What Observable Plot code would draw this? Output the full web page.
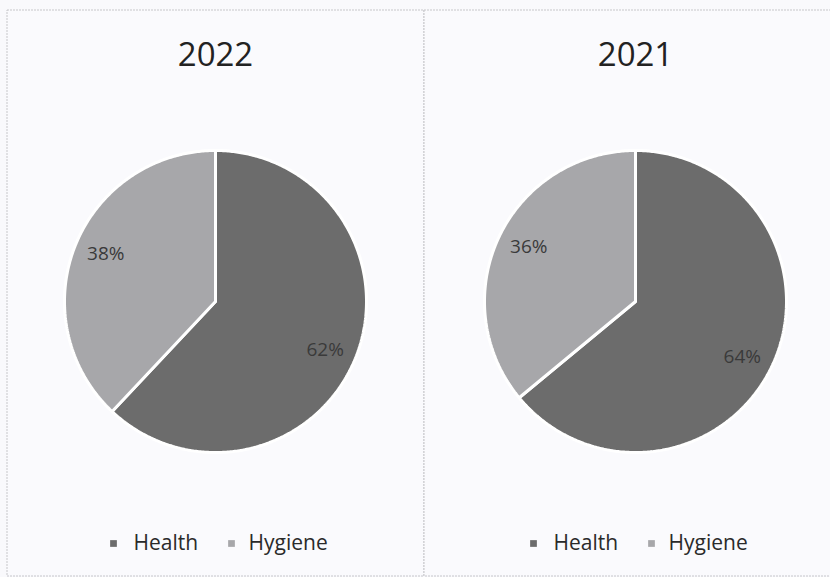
<!DOCTYPE html>
<html>
<head>
<meta charset="utf-8">
<script src="https://cdn.jsdelivr.net/npm/d3@7"></script>
<script src="https://cdn.jsdelivr.net/npm/@observablehq/plot@0.6"></script>
<style>
  html, body { margin: 0; padding: 0; background: #f9f9fc; }
  #chart { width: 830px; height: 577px; }
</style>
</head>
<body>
<div id="chart"></div>
<script>
// ---- data ----
const years = ["2022", "2021"];
const categories = ["Health", "Hygiene"];
const health = [62, 64];
const hygiene = [38, 36];
const colors = ["#6c6c6c", "#a7a7aa"];

// ---- layout ----
const W = 830, H = 577;
const centersX = [215, 635];
const centerY = 301;
const R = 151;
const labelR = 118;

const slicePts = [];
const labels = [];
const titles = [];
const legendSq = [];
const legendTx = [];

years.forEach((yr, i) => {
  const cx = centersX[i];
  const vals = [health[i], hygiene[i]];
  const arcs = d3.pie().sort(null)(vals);
  arcs.forEach((a, j) => {
    const key = yr + "-" + categories[j];
    slicePts.push({key, cat: categories[j], x: cx, y: centerY});
    const n = Math.max(2, Math.ceil((a.endAngle - a.startAngle) / 0.01));
    for (let k = 0; k <= n; k++) {
      const t = a.startAngle + (a.endAngle - a.startAngle) * k / n;
      slicePts.push({key, cat: categories[j], x: cx + R * Math.sin(t), y: centerY - R * Math.cos(t)});
    }
    slicePts.push({key, cat: categories[j], x: cx, y: centerY});
    const mid = (a.startAngle + a.endAngle) / 2;
    const dyFix = j === 0 ? 5 : -4;
    labels.push({x: cx + labelR * Math.sin(mid), y: centerY - labelR * Math.cos(mid) + dyFix, text: vals[j] + "%"});
  });
  titles.push({x: cx, y: 55, text: yr});
  const sqOff = [-102, 16];
  const txOff = [-82, 33];
  categories.forEach((c, j) => {
    legendSq.push({x: cx + sqOff[j], y: 543, cat: c});
    legendTx.push({x: cx + txOff[j], y: 543, text: c});
  });
});

const panels = [
  {x1: 7, x2: 424, y1: 10, y2: 576},
  {x1: 424, x2: 840, y1: 10, y2: 576}
];

const chart = Plot.plot({
  width: W,
  height: H,
  margin: 0,
  x: {type: "identity", axis: null},
  y: {type: "identity", axis: null},
  style: {fontFamily: "'Open Sans', sans-serif", background: "#f9f9fc"},
  marks: [
    Plot.rect(panels, {x1: "x1", x2: "x2", y1: "y1", y2: "y2", fill: "#fafafd", stroke: "#c6c6ca", strokeWidth: 1, strokeDasharray: "2,1"}),
    ...categories.map((c, j) =>
      Plot.line(slicePts.filter(d => d.cat === c), {
        x: "x", y: "y", z: "key",
        fill: colors[j], stroke: "white", strokeWidth: 3,
        strokeLinejoin: "miter", curve: "linear"
      })
    ),
    Plot.text(labels, {x: "x", y: "y", text: "text", fontSize: 19, fill: "#3a3a3a", textAnchor: "middle"}),
    Plot.text(titles, {x: "x", y: "y", text: "text", fontSize: 33, fill: "#222", textAnchor: "middle"}),
    Plot.dot(legendSq, {x: "x", y: "y", symbol: "square", r: 3.8, fill: d => colors[categories.indexOf(d.cat)], stroke: "none"}),
    Plot.text(legendTx, {x: "x", y: "y", text: "text", fontSize: 21, fill: "#2a2a2a", textAnchor: "start"})
  ]
});

document.getElementById("chart").appendChild(chart);
</script>
</body>
</html>
